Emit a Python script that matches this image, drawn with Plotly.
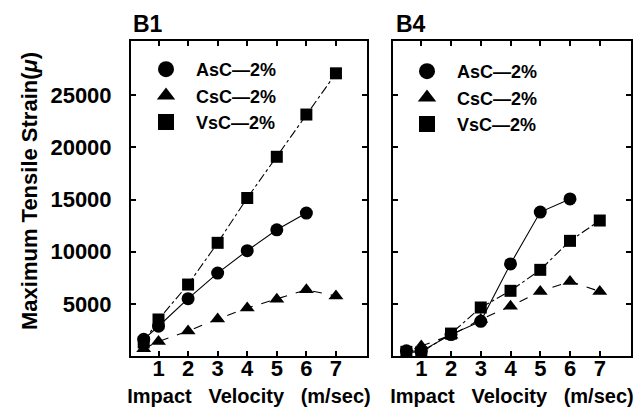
import plotly.graph_objects as go

# ---- data ----
b1_asc_x = [0.5, 1, 2, 3, 4, 5, 6]
b1_asc_y = [1600, 2850, 5500, 7950, 10100, 12100, 13700]
b1_csc_x = [0.5, 1, 2, 3, 4, 5, 6, 7]
b1_csc_y = [700, 1400, 2400, 3550, 4600, 5450, 6350, 5750]
b1_vsc_x = [0.5, 1, 2, 3, 4, 5, 6, 7]
b1_vsc_y = [1300, 3500, 6850, 10850, 15150, 19100, 23150, 27100]

b4_asc_x = [0.5, 1, 2, 3, 4, 5, 6]
b4_asc_y = [500, 450, 2050, 3320, 8830, 13800, 15060]
b4_csc_x = [1, 2, 3, 4, 5, 6, 7]
b4_csc_y = [950, 2000, 3500, 4770, 6190, 7150, 6190]
b4_vsc_x = [0.5, 1, 2, 3, 4, 5, 6, 7]
b4_vsc_y = [400, 350, 2150, 4650, 6250, 8260, 11040, 12990]

series_names = ["AsC\u20142%", "CsC\u20142%", "VsC\u20142%"]
x_ticks = [1, 2, 3, 4, 5, 6, 7]
x_ticktext = ["1", "2", "3", "4", "5", "6", "7"]
y_ticks = [5000, 10000, 15000, 20000, 25000]
y_ticktext = ["5000", "10000", "15000", "20000", "25000"]
panel_titles = ["B1", "B4"]

FONT = "Liberation Sans, Arial, sans-serif"
symbols = ["circle", "triangle-up", "square"]
dashes = ["solid", "dash", "dashdot"]
msizes = [13, 13, 12]

fig = go.Figure()

panels = [
    ("x", "y", "legend", [(b1_asc_x, b1_asc_y), (b1_csc_x, b1_csc_y), (b1_vsc_x, b1_vsc_y)]),
    ("x2", "y2", "legend2", [(b4_asc_x, b4_asc_y), (b4_csc_x, b4_csc_y), (b4_vsc_x, b4_vsc_y)]),
]
for xa, ya, lg, sers in panels:
    for i, (xs, ys) in enumerate(sers):
        fig.add_trace(go.Scatter(
            x=xs, y=ys, xaxis=xa, yaxis=ya, mode="lines+markers",
            line=dict(color="black", width=1.1, dash=dashes[i]),
            marker=dict(symbol=symbols[i], size=msizes[i], color="black"),
            showlegend=False, name=series_names[i]))
    for i in range(3):
        fig.add_trace(go.Scatter(
            x=[None], y=[None], xaxis=xa, yaxis=ya, mode="markers",
            marker=dict(symbol=symbols[i], size=16, color="black"),
            name="<b>\u00a0\u00a0" + series_names[i] + "</b>", legend=lg, showlegend=True))

W, H = 643, 409
dx1 = [123 / W, 359 / W]
dx2 = [385 / W, 623 / W]
dy = [(H - 348) / H, (H - 33) / H]

axis_common = dict(showline=True, linewidth=2, linecolor="black", mirror="allticks",
                   ticks="inside", ticklen=5, tickwidth=1.5, tickcolor="black",
                   showgrid=False, zeroline=False,
                   tickfont=dict(family=FONT, size=22, color="black"))

xtitle = "Impact\u00a0\u00a0\u00a0Velocity\u00a0\u00a0\u00a0(m/sec)"
bx = ["<b>" + t + "</b>" for t in x_ticktext]
by = ["<b>" + t + "</b>" for t in y_ticktext]

fig.update_layout(
    width=W, height=H, margin=dict(l=0, r=0, t=0, b=0),
    paper_bgcolor="white", plot_bgcolor="white",
    font=dict(family=FONT, color="black"),
    xaxis=dict(domain=dx1, range=[0.07, 8.05], tickvals=x_ticks, ticktext=bx, anchor="y",
               ticklabelstandoff=-8,
               title=dict(text="<b>" + xtitle + "</b>", font=dict(size=20), standoff=9),
               **axis_common),
    yaxis=dict(domain=dy, range=[0, 30200], tickvals=y_ticks, ticktext=by, anchor="x",
               ticklabelstandoff=13, **axis_common),
    xaxis2=dict(domain=dx2, range=[0.05, 8.05], tickvals=x_ticks, ticktext=bx, anchor="y2",
                ticklabelstandoff=-8,
                title=dict(text="<b>" + xtitle + "</b>", font=dict(size=20), standoff=9),
                **axis_common),
    yaxis2=dict(domain=dy, range=[0, 30200], tickvals=y_ticks, anchor="x2",
                showticklabels=False, **axis_common),
    legend=dict(x=138 / W, y=(H - 43) / H, xanchor="left", yanchor="top",
                bgcolor="rgba(0,0,0,0)", font=dict(family=FONT, size=18),
                itemwidth=30, tracegroupgap=0),
    legend2=dict(x=399 / W, y=(H - 45) / H, xanchor="left", yanchor="top",
                 bgcolor="rgba(0,0,0,0)", font=dict(family=FONT, size=18),
                 itemwidth=30, tracegroupgap=0),
    annotations=[
        dict(text="<b>" + panel_titles[0] + "</b>", x=123 / W, y=(H - 16) / H, xref="paper", yref="paper",
             xanchor="left", yanchor="middle", showarrow=False, font=dict(family=FONT, size=23)),
        dict(text="<b>" + panel_titles[1] + "</b>", x=386 / W, y=(H - 16) / H, xref="paper", yref="paper",
             xanchor="left", yanchor="middle", showarrow=False, font=dict(family=FONT, size=23)),
        dict(text="<b>Maximum Tensile Strain(<i>\u03bc</i>)</b>", x=21 / W, y=(H - 183) / H,
             xref="paper", yref="paper", xanchor="center", yanchor="middle", textangle=-90,
             showarrow=False, font=dict(family=FONT, size=22)),
    ],
)

fig.write_html("out.html")
